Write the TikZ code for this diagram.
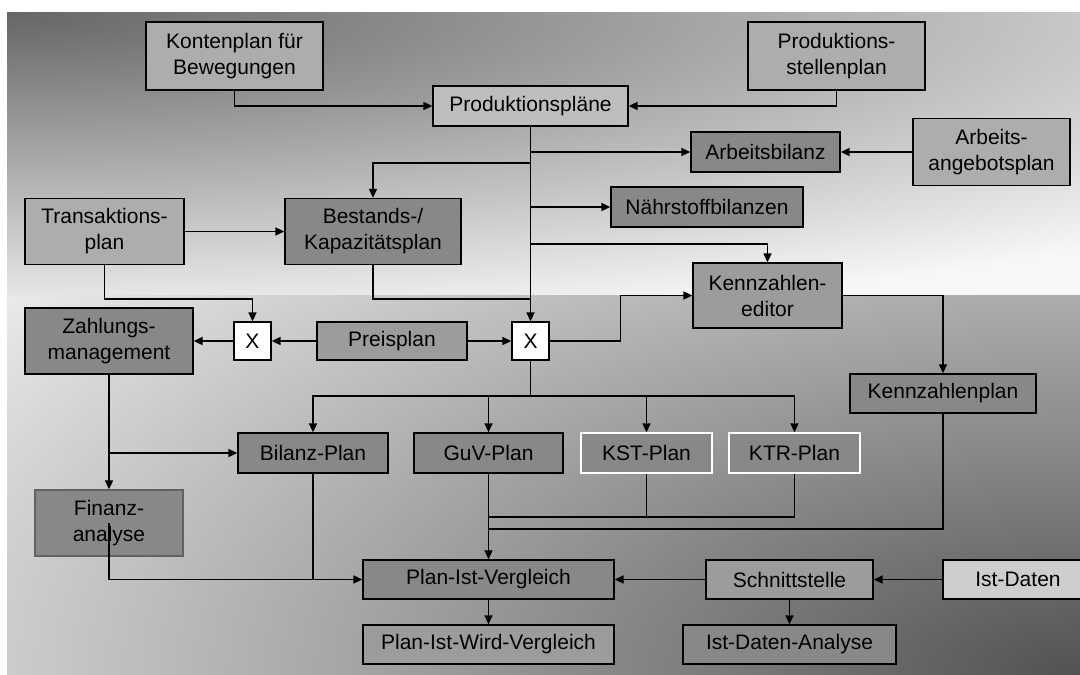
\documentclass[tikz,border=0pt]{standalone}
\usepackage{fontspec}
\setmainfont{Liberation Sans}
\usetikzlibrary{arrows.meta}
\definecolor{fuellhell}{gray}{0.68}
\definecolor{fuellmittel}{gray}{0.61}
\definecolor{fuelldunkel}{gray}{0.535}
\definecolor{randgrau}{gray}{0.38}
\definecolor{obendunkel}{gray}{0.40}
\definecolor{obenhell}{gray}{0.97}
\definecolor{untenhell}{gray}{0.96}
\definecolor{untendunkel}{gray}{0.32}
\begin{document}
\begin{tikzpicture}[x=1pt, y=-1pt, >={Triangle[length=9pt, width=8pt]}, line width=1.6pt,
  plan/.style={draw, line width=1.3pt, inner sep=0pt, align=center, minimum height=40pt, font=\fontsize{21}{26}\selectfont},
  hellbox/.style={plan, fill=fuellhell},
  mittelbox/.style={plan, fill=fuellmittel},
  dunkelbox/.style={plan, fill=fuelldunkel},
  kreuz/.style={plan, fill=white, minimum width=37pt, minimum height=38pt}]
\useasboundingbox (0,0) rectangle (1080,675);
% Hintergrund
\fill[obenhell] (7,12) rectangle (1080,295);
\begin{scope}
  \clip (7,12) rectangle (1080,295);
  \shade[inner color=obendunkel, outer color=obenhell] (7,12) ellipse [x radius=1600pt, y radius=322pt];
\end{scope}
\fill[untenhell] (7,295) rectangle (1080,675);
\begin{scope}
  \clip (7,295) rectangle (1080,675);
  \shade[inner color=untendunkel, outer color=untenhell] (1080,675) ellipse [x radius=1430pt, y radius=680pt];
\end{scope}
% Kaesten
\node[hellbox, minimum width=177pt, minimum height=68pt] (konten) at (234.5,56) {Kontenplan für\\Bewegungen};
\node[hellbox, minimum width=177pt, minimum height=68pt] (prodstellen) at (836.5,56) {Produktions-\\stellenplan};
\node[hellbox, fill=fuellhell!80!white, minimum width=195pt] (prodplaene) at (530.5,106) {Produktionspläne};
\node[dunkelbox, minimum width=149pt] (arbbilanz) at (765.5,152) {Arbeitsbilanz};
\node[hellbox, minimum width=157pt, minimum height=67pt] (arbangebot) at (991.5,152) {Arbeits-\\angebotsplan};
\node[dunkelbox, minimum width=192pt] (naehrstoff) at (707,207) {Nährstoffbilanzen};
\node[hellbox, minimum width=159pt, minimum height=66pt] (transaktion) at (104.5,231.5) {Transaktions-\\plan};
\node[dunkelbox, minimum width=176pt, minimum height=66pt] (bestand) at (373,231.5) {Bestands-/\\Kapazitätsplan};
\node[mittelbox, minimum width=149pt, minimum height=65pt] (kzeditor) at (767.5,295.5) {Kennzahlen-\\editor};
\node[dunkelbox, minimum width=168pt, minimum height=66pt] (zahlung) at (109,341) {Zahlungs-\\management};
\node[kreuz] (xlinks) at (252.5,341) {X};
\node[mittelbox, minimum width=150pt, minimum height=38pt] (preis) at (392,341) {Preisplan};
\node[kreuz] (xrechts) at (530.5,341) {X};
\node[dunkelbox, minimum width=186pt, minimum height=39pt] (kzplan) at (943,393.5) {Kennzahlenplan};
\node[dunkelbox, minimum width=150pt] (bilanz) at (313,453) {Bilanz-Plan};
\node[dunkelbox, minimum width=149pt] (guv) at (488.5,453) {GuV-Plan};
\node[dunkelbox, draw=white, minimum width=131pt] (kst) at (646.5,453) {KST-Plan};
\node[dunkelbox, draw=white, minimum width=131pt] (ktr) at (794.5,453) {KTR-Plan};
\node[dunkelbox, draw=randgrau, minimum width=148pt, minimum height=66pt] (finanz) at (109,523) {Finanz-\\analyse};
\node[dunkelbox, minimum width=251pt, minimum height=39pt] (pivgl) at (488.5,579.5) {Plan-Ist-Vergleich};
\node[mittelbox, minimum width=251pt, minimum height=39pt] (piwvgl) at (488.5,644.5) {Plan-Ist-Wird-Vergleich};
\node[mittelbox, minimum width=167pt, minimum height=39pt] (schnitt) at (789.5,579.5) {Schnittstelle};
\node[hellbox, fill=fuellhell!60!white, minimum width=150pt, minimum height=39pt] (istdaten) at (1018,579.5) {Ist-Daten};
\node[dunkelbox, minimum width=213pt, minimum height=39pt] (istanalyse) at (789.5,644.5) {Ist-Daten-Analyse};
% Knickpunkte
\coordinate (abzweigbestand) at (530.5,163);
\coordinate (abzweigkz) at (530.5,244);
\coordinate (sammel) at (530.5,299);
\coordinate (verteiler) at (530.5,396);
\coordinate (kostenfuss) at (488.5,517);
\coordinate (kzfuss) at (488.5,529);
% Verbindungen
\draw[->] (konten) |- (prodplaene);
\draw[->] (prodstellen) |- (prodplaene);
\draw[->] (prodplaene) -- (xrechts);
\draw[->] (prodplaene.south |- arbbilanz) -- (arbbilanz);
\draw[->] (arbangebot) -- (arbbilanz);
\draw[->] (prodplaene.south |- naehrstoff) -- (naehrstoff);
\draw[->] (abzweigbestand) -| (bestand);
\draw[->] (abzweigkz) -| (kzeditor);
\draw[->] (transaktion) -- (bestand);
\draw[->] (transaktion) |- (sammel -| xlinks) -- (xlinks);
\draw (bestand) |- (sammel);
\draw[->] (preis) -- (xlinks);
\draw[->] (xlinks) -- (zahlung);
\draw[->] (preis) -- (xrechts);
\draw[->] (xrechts.east) -- ++(71,0) |- (kzeditor);
\draw[->] (kzeditor) -| (kzplan);
\draw (xrechts) -- (verteiler);
\foreach \ziel in {bilanz, guv, kst, ktr}
  \draw[->] (verteiler) -| (\ziel);
\draw[->] (zahlung) -- (finanz);
\draw[->] (zahlung.south |- bilanz) -- (bilanz);
\draw[->] (finanz.center) |- (pivgl);
\draw (bilanz) -- (bilanz |- pivgl);
\draw[->] (guv) -- (pivgl);
\draw (kst) -- (kst |- kostenfuss);
\draw (ktr) |- (kostenfuss);
\draw (kzplan) |- (kzfuss);
\draw[->] (istdaten) -- (schnitt);
\draw[->] (schnitt) -- (pivgl);
\draw[->] (schnitt) -- (istanalyse);
\draw[->] (pivgl) -- (piwvgl);
\end{tikzpicture}
\end{document}
